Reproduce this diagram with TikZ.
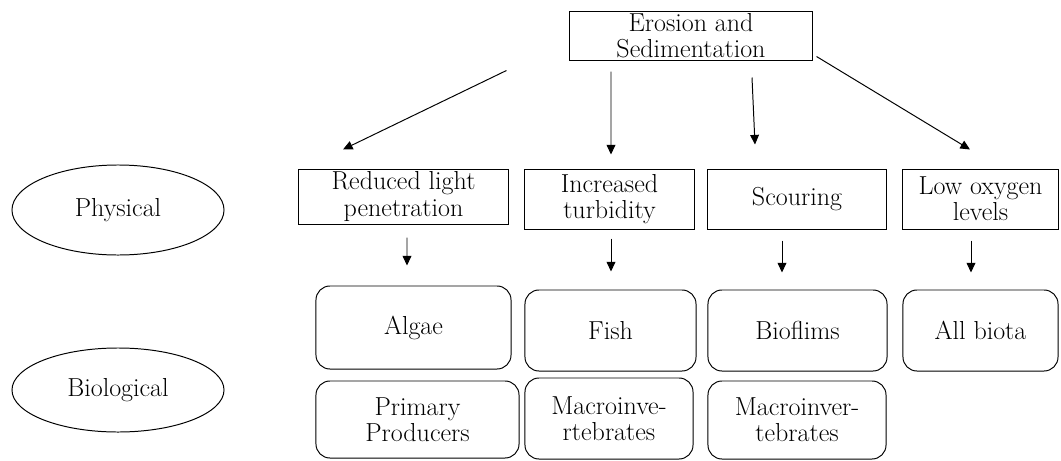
\documentclass[tikz,border=0pt]{standalone}
\usetikzlibrary{arrows.meta,positioning,shapes.geometric,calc}
\tikzset{
  >={Triangle[length=2.4mm,width=2.2mm]},
  txt/.style={font=\fontsize{18.5}{18.5}\selectfont,align=center,inner sep=0pt},
  effect/.style={txt,draw,line width=0.7pt},
  biobox/.style={txt,draw,line width=0.7pt,rounded corners=3.5mm},
  group/.style={txt,draw,ellipse,line width=0.7pt,minimum width=5.3cm},
  link/.style={->,line width=0.7pt},
}
\begin{document}
\begin{tikzpicture}[x=0.025cm,y=-0.025cm]
  \useasboundingbox (0,0) rectangle (1061,461);
  % source
  \node[effect,minimum width=6.05cm,minimum height=1.225cm] (erosion) at (691,35.5) {Erosion and\\Sedimentation};
  % categories
  \node[group,minimum height=2.25cm] (phys) at (118,210) {Physical};
  \node[group,minimum height=2.1cm] (bio) at (118,390) {Biological};
  % physical effects
  \node[effect,minimum width=5.225cm,minimum height=1.375cm] (light) at (403.5,196.5) {Reduced light\\penetration};
  \node[effect,minimum width=4.225cm,minimum height=1.5cm] (turb) at (609.5,199) {Increased\\turbidity};
  \node[effect,minimum width=4.45cm,minimum height=1.5cm] (scour) at (797,199) {Scouring};
  \node[effect,minimum width=3.875cm,minimum height=1.5cm] (oxy) at (980.5,199) {Low oxygen\\levels};
  % biological effects
  \node[biobox,minimum width=4.875cm,minimum height=2.075cm] (algae) at (413.5,327.5) {Algae};
  \node[biobox,minimum width=4.275cm,minimum height=2.025cm] (fish) at (610.5,330.5) {Fish};
  \node[biobox,minimum width=4.475cm,minimum height=2.025cm] (biofl) at (797.5,330.5) {Bioflims};
  \node[biobox,minimum width=3.875cm,minimum height=2.025cm] (allb) at (980.5,330.5) {All biota};
  \node[biobox,minimum width=5.075cm,minimum height=1.925cm] (prim) at (417.5,419.5) {Primary\\Producers};
  \node[biobox,minimum width=4.2cm,minimum height=2.025cm] (macroA) at (609,418.5) {Macroinve-\\rtebrates};
  \node[biobox,minimum width=4.45cm,minimum height=1.95cm] (macroB) at (797,420) {Macroinver-\\tebrates};
  % arrows from the source
  \draw[link] ($(erosion.south west)+(-63,10)$) -- ($(light.north)+(-60.5,-19)$);
  \draw[link] ($(erosion.south)+(-80,11)$) -- ($(turb.north)+(1.5,-14)$);
  \draw[link] ($(erosion.south)+(61,17)$) -- ($(scour.north)+(-42,-24)$);
  \draw[link] ($(erosion.south east)+(4,-4)$) -- ($(oxy.north)+(-10.5,-19)$);
  % arrows down to the biota
  \draw[link] ($(light.south)+(3.5,13)$) -- ($(algae.north)+(-6.5,-20)$);
  \draw[link] ($(turb.south)+(1.5,9)$) -- ($(fish.north)+(0.5,-18)$);
  \draw[link] ($(scour.south)+(-15,11)$) -- ($(biofl.north)+(-15.5,-17)$);
  \draw[link] ($(oxy.south)+(-9.5,11)$) -- ($(allb.north)+(-9.5,-17)$);
\end{tikzpicture}
\end{document}
